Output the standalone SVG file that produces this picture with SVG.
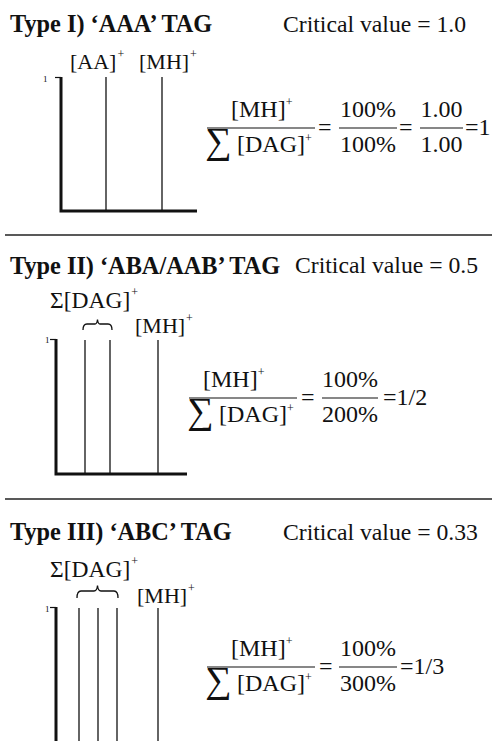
<svg xmlns="http://www.w3.org/2000/svg" width="495" height="741" viewBox="0 0 495 741">
<style>
text{font-family:"Liberation Serif","Times New Roman",serif;fill:#111}
.title{font-size:24.3px;font-weight:bold}
.crit{font-size:23.7px}
.lbl{font-size:22px}
.sig{font-size:23.5px}
.eq{font-size:24px}
.sup{font-size:12px}
.sum{font-size:37px}
.tiny{font-size:9px}
.axis{stroke:#111;stroke-width:3;fill:none}
.peak{stroke:#111;stroke-width:1.3;fill:none}
.bar{stroke:#111;stroke-width:1.2;fill:none}
.tick{stroke:#111;stroke-width:1.2;fill:none}
.brace{stroke:#111;stroke-width:1.3;fill:none}
.sep{stroke:#222;stroke-width:1.6}
.mid{text-anchor:middle}
</style>
<g id="connectors">
<line class="sep" x1="5" y1="235" x2="492" y2="235"/>
<line class="sep" x1="5" y1="499" x2="492" y2="499"/>
</g>
<g id="type1">
<text class="title" x="10" y="32">Type I) ‘AAA’ TAG</text>
<text class="crit" x="283" y="32">Critical value = 1.0</text>
<text class="lbl" x="70" y="69">[AA]<tspan class="sup" dx="1" dy="-11">+</tspan></text>
<text class="lbl" x="139" y="69">[MH]<tspan class="sup" dx="1" dy="-11">+</tspan></text>
<text class="tiny" x="43" y="82">1</text>
<line class="tick" x1="55" y1="77.5" x2="61" y2="77.5"/>
<path class="axis" d="M61,77 V211 H197"/>
<line class="peak" x1="106" y1="77" x2="106" y2="211"/>
<line class="peak" x1="162" y1="77" x2="162" y2="211"/>
<text class="eq" x="231" y="117">[MH]<tspan class="sup" dy="-11">+</tspan></text>
<line class="bar" x1="207" y1="128" x2="315" y2="128"/>
<text class="sum" x="205" y="153">∑</text>
<text class="eq" x="237" y="152">[DAG]<tspan class="sup" dy="-10">+</tspan></text>
<text class="eq" x="318" y="135">=</text>
<text class="eq mid" x="368" y="117">100%</text>
<line class="bar" x1="339" y1="128" x2="397" y2="128"/>
<text class="eq mid" x="368" y="152">100%</text>
<text class="eq" x="399" y="135">=</text>
<text class="eq mid" x="441.5" y="117">1.00</text>
<line class="bar" x1="420" y1="128" x2="463" y2="128"/>
<text class="eq mid" x="441.5" y="152">1.00</text>
<text class="eq" x="465" y="135">=1</text>
</g>
<g id="type2">
<text class="title" x="10" y="274">Type II) ‘ABA/AAB’ TAG</text>
<text class="crit" x="295" y="273">Critical value = 0.5</text>
<text class="sig" x="50" y="308">Σ[DAG]<tspan class="sup" dx="1" dy="-12">+</tspan></text>
<path class="brace" d="M83,330 Q83,324 87,324 H95 Q97,324 97.5,319.5 Q98,324 100,324 H108 Q112,324 112,330"/>
<text class="lbl" x="135" y="333">[MH]<tspan class="sup" dx="1" dy="-11">+</tspan></text>
<text class="tiny" x="45" y="343">1</text>
<line class="tick" x1="50" y1="339.5" x2="56" y2="339.5"/>
<path class="axis" d="M56,339 V474 H187"/>
<line class="peak" x1="85" y1="340" x2="85" y2="474"/>
<line class="peak" x1="110" y1="340" x2="110" y2="474"/>
<line class="peak" x1="158" y1="340" x2="158" y2="474"/>
<text class="eq" x="203" y="387">[MH]<tspan class="sup" dy="-11">+</tspan></text>
<line class="bar" x1="189" y1="398" x2="297" y2="398"/>
<text class="sum" x="187" y="423">∑</text>
<text class="eq" x="219" y="422">[DAG]<tspan class="sup" dy="-10">+</tspan></text>
<text class="eq" x="301" y="405">=</text>
<text class="eq mid" x="350" y="387">100%</text>
<line class="bar" x1="322" y1="398" x2="378" y2="398"/>
<text class="eq mid" x="350" y="422">200%</text>
<text class="eq" x="383" y="405">=1/2</text>
</g>
<g id="type3">
<text class="title" x="10" y="540">Type III) ‘ABC’ TAG</text>
<text class="crit" x="283" y="540">Critical value = 0.33</text>
<text class="sig" x="50" y="577">Σ[DAG]<tspan class="sup" dx="1" dy="-12">+</tspan></text>
<path class="brace" d="M77,598 Q77,591 81,591 H94 Q97,591 97.5,585.5 Q98,591 101,591 H114 Q118,591 118,598"/>
<text class="lbl" x="137" y="603">[MH]<tspan class="sup" dx="1" dy="-11">+</tspan></text>
<text class="tiny" x="45" y="612">1</text>
<line class="tick" x1="50" y1="607.5" x2="56" y2="607.5"/>
<line class="axis" x1="56" y1="607" x2="56" y2="741"/>
<line class="peak" x1="79" y1="608" x2="79" y2="741"/>
<line class="peak" x1="98" y1="608" x2="98" y2="741"/>
<line class="peak" x1="117" y1="608" x2="117" y2="741"/>
<line class="peak" x1="158" y1="608" x2="158" y2="741"/>
<text class="eq" x="231" y="656">[MH]<tspan class="sup" dy="-11">+</tspan></text>
<line class="bar" x1="207" y1="667" x2="315" y2="667"/>
<text class="sum" x="205" y="692">∑</text>
<text class="eq" x="237" y="691">[DAG]<tspan class="sup" dy="-10">+</tspan></text>
<text class="eq" x="319" y="674">=</text>
<text class="eq mid" x="368" y="656">100%</text>
<line class="bar" x1="339" y1="667" x2="397" y2="667"/>
<text class="eq mid" x="368" y="691">300%</text>
<text class="eq" x="400" y="674">=1/3</text>
</g>
</svg>
